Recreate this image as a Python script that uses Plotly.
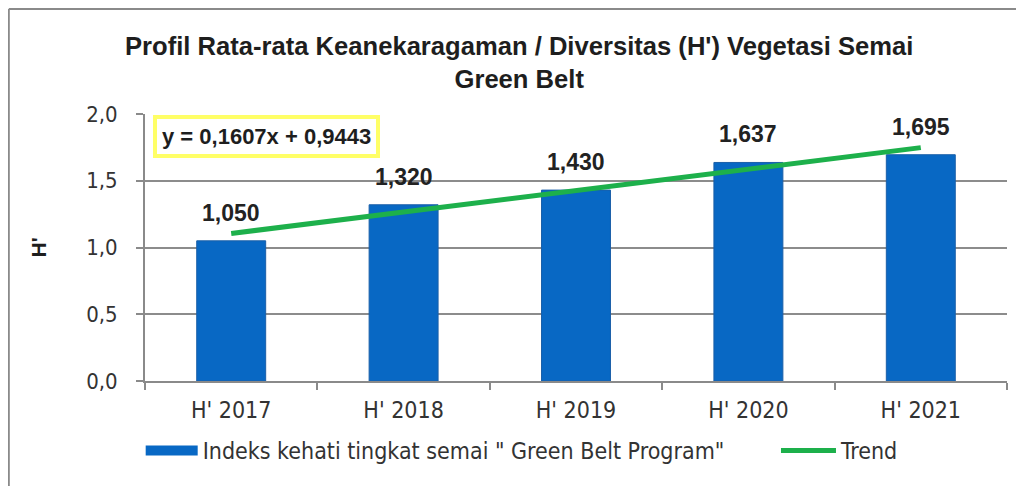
import plotly.graph_objects as go

# Data
categories = ["H' 2017", "H' 2018", "H' 2019", "H' 2020", "H' 2021"]
indeks = [1.050, 1.320, 1.430, 1.637, 1.695]
# Linear trend y = 0,1607x + 0,9443 evaluated at each category
trend = [1.105, 1.266, 1.426, 1.587, 1.748]
equation = "y = 0,1607x + 0,9443"
bar_name = 'Indeks kehati tingkat semai " Green Belt Program"'

font_main = "DejaVu Sans Condensed, Liberation Sans Narrow, Liberation Sans, Arial"
font_bold = "Liberation Sans, Arial"
bar_color = "#0868c4"

fig = go.Figure()

fig.add_trace(go.Bar(
    x=categories, y=indeks, name=bar_name,
    marker=dict(color=bar_color, line=dict(color="#1a5fa8", width=1)),
    width=0.4, showlegend=False,
))

# legend-only entry so the key is a wide block like the original
fig.add_trace(go.Scatter(
    x=[None], y=[None], mode="lines", name=bar_name,
    line=dict(color=bar_color, width=14), legend="legend",
))

fig.add_trace(go.Scatter(
    x=categories, y=trend, mode="lines", name="Trend",
    line=dict(color="#1db04b", width=5),
    legend="legend2",
))

# Data labels above the bars
for cat, val in zip(categories, indeks):
    fig.add_annotation(
        x=cat, y=val, xref="x", yref="y", yanchor="bottom", yshift=13,
        text="<b>" + f"{val:.3f}".replace(".", ",") + "</b>", showarrow=False,
        font=dict(family=font_bold, size=23, color="#222222"),
    )

# Equation box
fig.add_annotation(
    xref="paper", yref="paper", x=0.1415, y=0.914, xanchor="center", yanchor="middle",
    text="<b>" + equation + "</b>", showarrow=False,
    font=dict(family=font_bold, size=22, color="#1e1e1e"),
    bgcolor="white", bordercolor="#ffff66", borderwidth=4, borderpad=5,
)

# Title
fig.add_annotation(
    xref="paper", yref="paper", x=0.4335, y=1.315, xanchor="center", yanchor="top",
    text="<b>Profil Rata-rata Keanekaragaman / Diversitas (H') Vegetasi Semai<br>Green Belt</b>",
    showarrow=False, align="center",
    font=dict(family=font_bold, size=25.6, color="#1e1e1e"),
)

# Y axis title
fig.add_annotation(
    xref="paper", yref="paper", x=-0.123, y=0.5, xanchor="center", yanchor="middle",
    text="<b>H'</b>", showarrow=False, textangle=-90,
    font=dict(family=font_bold, size=21, color="#1e1e1e"),
)

# Outer chart frame (left and top edges)
fig.add_shape(type="line", xref="paper", yref="paper",
              x0=-0.158, x1=-0.158, y0=-0.8, y1=1.393,
              line=dict(color="#8a8a8a", width=2))
fig.add_shape(type="line", xref="paper", yref="paper",
              x0=-0.158, x1=1.5, y0=1.393, y1=1.393,
              line=dict(color="#8a8a8a", width=2))

fig.update_layout(
    width=1016, height=478,
    margin=dict(l=137, r=17, t=106, b=105, autoexpand=False),
    paper_bgcolor="white", plot_bgcolor="white",
    separators=",.",
    showlegend=True,
    legend=dict(orientation="h", x=-0.005, y=-0.18, yanchor="top", xanchor="left",
                font=dict(family=font_main, size=23, color="#333333"),
                itemwidth=52, bgcolor="rgba(0,0,0,0)"),
    legend2=dict(orientation="h", x=0.732, y=-0.18, yanchor="top", xanchor="left",
                 font=dict(family=font_main, size=23, color="#333333"),
                 itemwidth=55, bgcolor="rgba(0,0,0,0)"),
    xaxis=dict(
        showline=True, linecolor="#8a8a8a", linewidth=2,
        ticks="outside", tickson="boundaries", ticklen=7, tickcolor="#8a8a8a", tickwidth=2,
        tickfont=dict(family=font_main, size=23, color="#333333"),
        ticklabelstandoff=7,
    ),
    yaxis=dict(
        range=[0, 2], dtick=0.5, tickformat=".1f",
        showline=True, linecolor="#8a8a8a", linewidth=2,
        showgrid=True, gridcolor="#8c8c8c", gridwidth=1.5,
        ticks="outside", ticklen=7, tickcolor="#8a8a8a", tickwidth=2,
        tickfont=dict(family=font_main, size=22, color="#333333"),
        ticklabelstandoff=14,
        zeroline=False,
    ),
)

fig.write_html("out.html")
